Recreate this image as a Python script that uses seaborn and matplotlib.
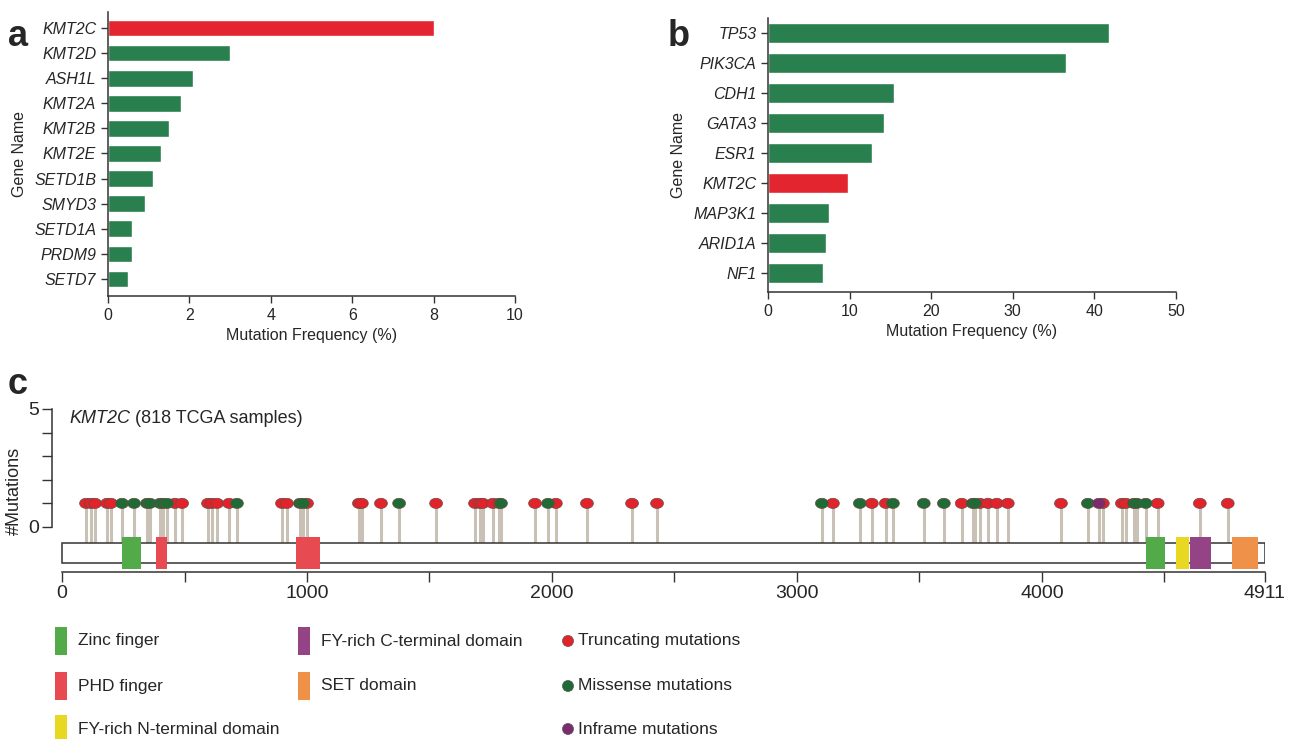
import numpy as np
import pandas as pd
import seaborn as sns
import matplotlib.pyplot as plt
from matplotlib.patches import Rectangle, Ellipse

sns.set_style("ticks")
plt.rcParams['font.family'] = ['Liberation Sans', 'DejaVu Sans']

# ---------------- data ----------------
genes_a = ["KMT2C", "KMT2D", "ASH1L", "KMT2A", "KMT2B", "KMT2E",
           "SETD1B", "SMYD3", "SETD1A", "PRDM9", "SETD7"]
freq_a = [8.0, 3.0, 2.1, 1.8, 1.5, 1.3, 1.1, 0.9, 0.6, 0.6, 0.5]

genes_b = ["TP53", "PIK3CA", "CDH1", "GATA3", "ESR1", "KMT2C",
           "MAP3K1", "ARID1A", "NF1"]
freq_b = [41.8, 36.5, 15.5, 14.2, 12.7, 9.8, 7.5, 7.1, 6.8]

protein_len = 4911
trunc_pos = [98, 118, 135, 184, 200, 461, 490, 596, 612, 633, 682, 898, 918,
             1000, 1212, 1224, 1302, 1527, 1686, 1706, 1718, 1759, 1784, 1931,
             2016, 2143, 2327, 2429, 3147, 3306, 3363, 3673, 3747, 3780, 3816,
             3861, 4078, 4249, 4327, 4343, 4473, 4645, 4759]
missense_pos = [245, 294, 347, 359, 400, 412, 429, 714, 971, 984, 1376, 1792,
                1984, 3102, 3257, 3392, 3518, 3600, 3718, 3727, 4188, 4376,
                4388, 4424]
inframe_pos = [4233]

domain_names = ["Zinc finger", "PHD finger", "PHD finger",
                "Zinc finger", "FY-rich N-terminal domain",
                "FY-rich C-terminal domain", "SET domain"]
domain_start = [245, 384, 954, 4425, 4547, 4604, 4778]
domain_end = [322, 430, 1053, 4502, 4601, 4689, 4883]

dom_colors = {"Zinc finger": "#52aa48", "PHD finger": "#e74a50",
              "FY-rich N-terminal domain": "#e8d822",
              "FY-rich C-terminal domain": "#944385",
              "SET domain": "#f0914a"}
mut_colors = {"Truncating": "#e3232b", "Missense": "#1f6b35", "Inframe": "#7b2b6e"}
GREEN, RED = "#2a7f4f", "#e3252f"

W, H = 1293, 739
fig = plt.figure(figsize=(W / 100, H / 100), dpi=100)


def box(l, t, r, b):
    return [l / W, 1 - b / H, (r - l) / W, (b - t) / H]


def bar_panel(ax, genes, vals, highlight, xmax, step, ylim):
    df = pd.DataFrame({"gene": genes, "freq": vals})
    pal = {g: (RED if g == highlight else GREEN) for g in genes}
    sns.barplot(data=df, x="freq", y="gene", hue="gene", palette=pal,
                legend=False, width=0.66, saturation=1, ax=ax)
    ax.set_xlim(0, xmax)
    ax.set_ylim(*ylim)
    ax.set_xticks(np.arange(0, xmax + 1, step))
    for lab in ax.get_yticklabels():
        lab.set_style("italic")
    ax.tick_params(axis="both", labelsize=11.5, length=5, width=1, color="#333333")
    ax.set_xlabel("Mutation Frequency (%)", fontsize=11.5, labelpad=4)
    ax.set_ylabel("Gene Name", fontsize=11.5, labelpad=5)
    for s in ["top", "right"]:
        ax.spines[s].set_visible(False)
    for s in ["left", "bottom"]:
        ax.spines[s].set_linewidth(1.1)
        ax.spines[s].set_color("#333333")


ax_a = fig.add_axes(box(108, 12, 515, 296))
bar_panel(ax_a, genes_a, freq_a, "KMT2C", 10, 2, (10.68, -0.64))
ax_b = fig.add_axes(box(768, 18, 1176, 292))
bar_panel(ax_b, genes_b, freq_b, "KMT2C", 50, 10, (8.63, -0.5))

# ---------------- panel c: lollipop ----------------
ax_c = fig.add_axes(box(52, 409, 1265, 572))
ax_c.set_xlim(-41, protein_len)
ax_c.set_ylim(-1.91, 5)

prot_bot, prot_top = -1.53, -0.68
dom_bot, dom_top = -1.78, -0.42

mut = pd.DataFrame({
    "pos": trunc_pos + missense_pos + inframe_pos,
    "type": (["Truncating"] * len(trunc_pos) + ["Missense"] * len(missense_pos)
             + ["Inframe"] * len(inframe_pos)),
})
mut["count"] = 1

# slightly wide oval head, as in the original lollipops
t = np.linspace(0, 2 * np.pi, 40)
oval = np.column_stack([1.2 * np.cos(t), 0.95 * np.sin(t)])

ax_c.vlines(mut["pos"], prot_top, mut["count"], color="#c9c1b5", lw=2.2, zorder=1)
ax_c.add_patch(Rectangle((0, prot_bot), protein_len, prot_top - prot_bot,
                         facecolor="white", edgecolor="#333333", lw=1.1, zorder=2))
for name, s, e in zip(domain_names, domain_start, domain_end):
    ax_c.add_patch(Rectangle((s, dom_bot), e - s, dom_top - dom_bot,
                             facecolor=dom_colors[name], edgecolor="none", zorder=3))
sns.scatterplot(data=mut, x="pos", y="count", hue="type", palette=mut_colors,
                marker=oval, s=85, edgecolor="#6a4a40", linewidth=0.5,
                legend=False, zorder=4, ax=ax_c)

ax_c.set_xlabel("")
ax_c.set_ylabel("#Mutations", fontsize=13, labelpad=4)
ax_c.set_yticks(range(0, 6))
ax_c.set_yticklabels(["0", "", "", "", "", "5"])
xt = list(range(0, 5000, 500)) + [protein_len]
ax_c.set_xticks(xt)
ax_c.set_xticklabels([str(v) if (v % 1000 == 0 or v == protein_len) else "" for v in xt])
ax_c.tick_params(axis="both", labelsize=14, length=7, width=1, color="#333333", pad=2)
for s in ["top", "right"]:
    ax_c.spines[s].set_visible(False)
ax_c.spines["left"].set_bounds(0, 5)
ax_c.spines["bottom"].set_bounds(0, protein_len)
for s in ["left", "bottom"]:
    ax_c.spines[s].set_linewidth(1.1)
    ax_c.spines[s].set_color("#333333")
t1 = ax_c.text(30, 4.95, "KMT2C", fontsize=13, style="italic", va="top", ha="left")
ax_c.annotate(" (818 TCGA samples)", xy=(1, 1), xycoords=t1, fontsize=13,
              va="top", ha="left")

# ---------------- legend (pixel coordinates) ----------------
ax_l = fig.add_axes([0, 0, 1, 1])
ax_l.set_xlim(0, W)
ax_l.set_ylim(H, 0)
ax_l.axis("off")
leg_dom = [("Zinc finger", 55, 641), ("PHD finger", 55, 686),
           ("FY-rich N-terminal domain", 55, 729),
           ("FY-rich C-terminal domain", 298, 641), ("SET domain", 298, 686)]
for name, x, y in leg_dom:
    ax_l.add_patch(Rectangle((x, y - 14), 12, 28, facecolor=dom_colors[name],
                             edgecolor="none"))
    ax_l.text(x + 23, y, name, fontsize=12.5, va="center", ha="left")
leg_mut = [("Truncating", 641), ("Missense", 686), ("Inframe", 729)]
for name, y in leg_mut:
    ax_l.add_patch(Ellipse((568, y), 11, 11, facecolor=mut_colors[name],
                           edgecolor="#555555", lw=0.5))
    ax_l.text(578, y, name + " mutations", fontsize=12.5, va="center", ha="left")

for lab, x, y in [("a", 8, 37), ("b", 668, 37), ("c", 8, 385)]:
    ax_l.text(x, y, lab, fontsize=26, fontweight="bold", va="center", ha="left")

fig.savefig("out.png", dpi=100)
